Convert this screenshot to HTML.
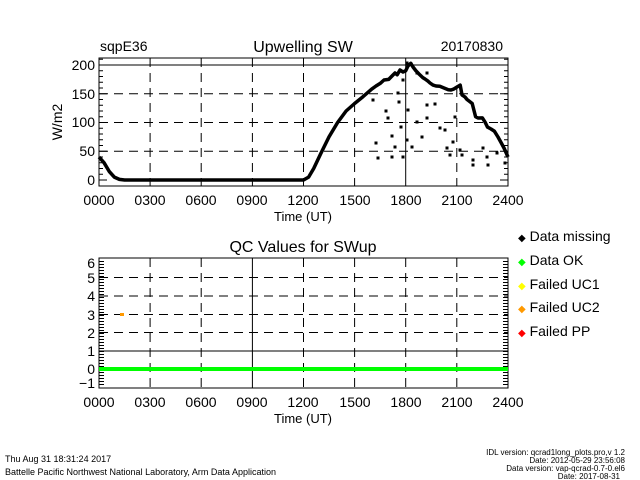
<!DOCTYPE html>
<html><head><meta charset="utf-8"><style>
html,body{margin:0;padding:0;background:#fff;}
svg{display:block;font-family:"Liberation Sans",sans-serif;}
</style></head><body>
<svg width="640" height="480" viewBox="0 0 640 480" xmlns="http://www.w3.org/2000/svg">
<rect width="640" height="480" fill="#fff"/>
<!-- TOP PLOT -->
<g fill="#000" font-size="14">
<text x="100" y="51">sqpE36</text>
<text x="303" y="52" text-anchor="middle" font-size="16">Upwelling  SW</text>
<text x="503" y="51" text-anchor="end">20170830</text>
</g>
<g stroke="#000" stroke-width="1" fill="none">
<g stroke-dasharray="9,6">
<line x1="99" y1="151.25" x2="508" y2="151.25"/>
<line x1="99" y1="122.5" x2="508" y2="122.5"/>
<line x1="99" y1="93.75" x2="508" y2="93.75"/>
<line x1="150.1" y1="58" x2="150.1" y2="186"/>
<line x1="201.2" y1="58" x2="201.2" y2="186"/>
<line x1="252.4" y1="58" x2="252.4" y2="186"/>
<line x1="303.5" y1="58" x2="303.5" y2="186"/>
<line x1="354.6" y1="58" x2="354.6" y2="186"/>
<line x1="456.8" y1="58" x2="456.8" y2="186"/>
</g>
<line x1="99" y1="65" x2="508" y2="65"/>
<line x1="405.7" y1="58" x2="405.7" y2="186"/>
<rect x="99" y="58" width="409" height="128"/>
</g>
<g stroke="#000" stroke-width="1">
<path d="M99 180h8M99 151.25h8M99 122.5h8M99 93.75h8M99 65h8M508 180h-8M508 151.25h-8M508 122.5h-8M508 93.75h-8M508 65h-8
M99 174.25h4M99 168.5h4M99 162.75h4M99 157h4M99 145.5h4M99 139.75h4M99 134h4M99 128.25h4M99 116.75h4M99 111h4M99 105.25h4M99 99.5h4M99 88h4M99 82.25h4M99 76.5h4M99 70.75h4M99 59.25h4
M508 174.25h-4M508 168.5h-4M508 162.75h-4M508 157h-4M508 145.5h-4M508 139.75h-4M508 134h-4M508 128.25h-4M508 116.75h-4M508 111h-4M508 105.25h-4M508 99.5h-4M508 88h-4M508 82.25h-4M508 76.5h-4M508 70.75h-4M508 59.25h-4"/>
</g>
<polyline fill="none" stroke="#000" stroke-width="3.5" stroke-linejoin="round" points="99,157 104.1,162.8 109.2,171.4 114.3,177.1 119.4,179.4 124.6,180 303.5,180 308.6,177.1 313.7,168.5 320.5,154.1 329,136.9 337.6,122.5 346.1,111 354.6,103.5 363.1,96.6 371.6,89.2 376,86 380.2,83.4 384,80 388.7,79.4 392,76 395,73 397.2,74.8 400,70 403,72 405.7,70.75 408,66 410.8,63.3 413,67 415.9,70.75 419,74 422.8,77.6 425,79 427.9,81.1 430,83 433,85.1 436,86 439.8,86.3 444,88 448.3,89.7 451,90 453.4,89.2 457,87 460.2,85.1 462,94.9 465,97 467,99.5 469,101 472.2,103.5 475.6,116.75 478,118 482.4,117.9 485,122 487.5,127.1 491,129 494.3,131.1 498,137 501.1,142.6 504,148 508,157"/>
<g fill="#000">
<rect x="374.5" y="141.5" width="3" height="3"/><rect x="376.5" y="156.5" width="3" height="3"/><rect x="371.5" y="98.5" width="3" height="3"/><rect x="384.5" y="109.5" width="3" height="3"/><rect x="386.5" y="116.5" width="3" height="3"/><rect x="390.5" y="134.5" width="3" height="3"/><rect x="390.5" y="155.5" width="3" height="3"/><rect x="393.5" y="145.5" width="3" height="3"/><rect x="397.5" y="100.5" width="3" height="3"/><rect x="399.5" y="125.5" width="3" height="3"/><rect x="401.5" y="155.5" width="3" height="3"/><rect x="405.5" y="138.5" width="3" height="3"/><rect x="406.5" y="108.5" width="3" height="3"/><rect x="410.5" y="145.5" width="3" height="3"/><rect x="415.5" y="120.5" width="3" height="3"/><rect x="420.5" y="135.5" width="3" height="3"/><rect x="425.5" y="116.5" width="3" height="3"/><rect x="425.5" y="103.5" width="3" height="3"/><rect x="433.5" y="102.5" width="3" height="3"/><rect x="438.5" y="126.5" width="3" height="3"/><rect x="443.5" y="128.5" width="3" height="3"/><rect x="445.5" y="146.5" width="3" height="3"/><rect x="448.5" y="153.5" width="3" height="3"/><rect x="451.5" y="140.5" width="3" height="3"/><rect x="453.5" y="115.5" width="3" height="3"/><rect x="458.5" y="148.5" width="3" height="3"/><rect x="460.5" y="153.5" width="3" height="3"/><rect x="471.5" y="158.5" width="3" height="3"/><rect x="471.5" y="163.5" width="3" height="3"/><rect x="481.5" y="146.5" width="3" height="3"/><rect x="485.5" y="155.5" width="3" height="3"/><rect x="486.5" y="163.5" width="3" height="3"/><rect x="495.5" y="151.5" width="3" height="3"/><rect x="503.5" y="161.5" width="3" height="3"/><rect x="401.5" y="78.5" width="3" height="3"/><rect x="415.5" y="71.5" width="3" height="3"/><rect x="425.5" y="71.5" width="3" height="3"/><rect x="396.5" y="91.5" width="3" height="3"/><rect x="405.5" y="61.5" width="3" height="3"/>
</g>
<g fill="#000" font-size="14" text-anchor="end">
<text x="95" y="185">0</text><text x="95" y="156">50</text><text x="95" y="127">100</text><text x="95" y="99">150</text><text x="95" y="70">200</text>
</g>
<text transform="translate(62,122) rotate(-90)" text-anchor="middle" font-size="14" fill="#000">W/m2</text>
<g fill="#000" font-size="14" text-anchor="middle">
<text x="99" y="205">0000</text><text x="150" y="205">0300</text><text x="201" y="205">0600</text><text x="252" y="205">0900</text><text x="303" y="205">1200</text><text x="355" y="205">1500</text><text x="406" y="205">1800</text><text x="457" y="205">2100</text><text x="508" y="205">2400</text>
<text x="303" y="221" font-size="13">Time  (UT)</text>
</g>

<!-- BOTTOM PLOT -->
<text x="303" y="252" text-anchor="middle" font-size="16" fill="#000">QC Values for SWup</text>
<g stroke="#000" stroke-width="1" fill="none">
<g stroke-dasharray="9,6">
<line x1="99" y1="277.5" x2="508" y2="277.5"/>
<line x1="99" y1="296" x2="508" y2="296"/>
<line x1="99" y1="314.5" x2="508" y2="314.5"/>
<line x1="99" y1="332.5" x2="508" y2="332.5"/>
<line x1="150.1" y1="258" x2="150.1" y2="388"/>
<line x1="201.2" y1="258" x2="201.2" y2="388"/>
<line x1="303.5" y1="258" x2="303.5" y2="388"/>
<line x1="354.6" y1="258" x2="354.6" y2="388"/>
<line x1="405.7" y1="258" x2="405.7" y2="388"/>
<line x1="456.8" y1="258" x2="456.8" y2="388"/>
</g>
<line x1="99" y1="351" x2="508" y2="351"/>
<line x1="252.4" y1="258" x2="252.4" y2="388"/>
<rect x="99" y="258" width="409" height="130"/>
</g>
<g stroke="#000" stroke-width="1">
<path id="tk" d="M99 261.5h5M99 264.5h5M99 267.5h5M99 270.5h5M99 273.5h5M99 276.5h5M99 279.5h5M99 282.5h5M99 285.5h5M99 288.5h5M99 291.5h5M99 294.5h5M99 297.5h5M99 300.5h5M99 303.5h5M99 306.5h5M99 309.5h5M99 312.5h5M99 315.5h5M99 318.5h5M99 321.5h5M99 324.5h5M99 327.5h5M99 330.5h5M99 333.5h5M99 336.5h5M99 339.5h5M99 342.5h5M99 345.5h5M99 348.5h5M99 351.5h5M99 354.5h5M99 357.5h5M99 360.5h5M99 363.5h5M99 366.5h5M99 369.5h5M99 372.5h5M99 375.5h5M99 378.5h5M99 381.5h5M99 384.5h5"/>
<use href="#tk" transform="translate(607,0) scale(-1,1)"/>
</g>
<line x1="99" y1="369" x2="508" y2="369" stroke="#00ff00" stroke-width="4"/>
<rect x="120" y="313" width="4" height="3" fill="#ff9900"/>
<g fill="#000" font-size="14" text-anchor="end">
<text x="95" y="268">6</text><text x="95" y="283">5</text><text x="95" y="301">4</text><text x="95" y="320">3</text><text x="95" y="338">2</text><text x="95" y="356">1</text><text x="95" y="374">0</text><text x="95" y="388">−1</text>
</g>
<g fill="#000" font-size="14" text-anchor="middle">
<text x="99" y="407">0000</text><text x="150" y="407">0300</text><text x="201" y="407">0600</text><text x="252" y="407">0900</text><text x="303" y="407">1200</text><text x="355" y="407">1500</text><text x="406" y="407">1800</text><text x="457" y="407">2100</text><text x="508" y="407">2400</text>
<text x="303" y="423" font-size="13">Time  (UT)</text>
</g>

<!-- LEGEND -->
<g font-size="14" fill="#000">
<text x="518" y="241"><tspan fill="#000" font-size="10">◆</tspan> Data missing</text>
<text x="518" y="265"><tspan fill="#00ff00" font-size="10">◆</tspan> Data OK</text>
<text x="518" y="289"><tspan fill="#ffff00" font-size="10">◆</tspan> Failed UC1</text>
<text x="518" y="312"><tspan fill="#ff9900" font-size="10">◆</tspan> Failed UC2</text>
<text x="518" y="336"><tspan fill="#ff0000" font-size="10">◆</tspan> Failed PP</text>
</g>

<!-- FOOTER -->
<g font-size="9" fill="#000">
<text x="5" y="462">Thu Aug 31 18:31:24 2017</text>
<text x="5" y="475">Battelle Pacific Northwest National Laboratory, Arm Data Application</text>
</g>
<g font-size="8" fill="#000" text-anchor="end">
<text x="625" y="455">IDL version: qcrad1long_plots.pro,v 1.2</text>
<text x="625" y="463">Date: 2012-05-29 23:56:08</text>
<text x="625" y="471">Data version: vap-qcrad-0.7-0.el6</text>
<text x="620" y="479">Date: 2017-08-31</text>
</g>
</svg>
</body></html>
